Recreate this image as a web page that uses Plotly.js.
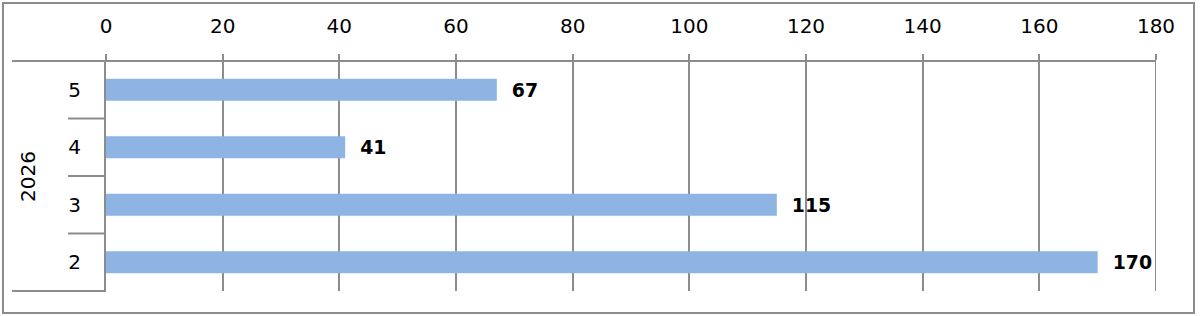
<!DOCTYPE html>
<html>
<head>
<meta charset="utf-8">
<script src="https://cdn.plot.ly/plotly-3.0.1.min.js"></script>
<style>html,body{margin:0;padding:0;background:#fff;}#chart{width:1200px;height:316px;}</style>
</head>
<body>
<div id="chart"></div>
<script>
var categories = ['5', '4', '3', '2'];
var values = [67, 41, 115, 170];
var groupLabel = '2026';
var xTicks = [0, 20, 40, 60, 80, 100, 120, 140, 160, 180];

var W = 1200, H = 316;
var mL = 106, mR = 44, mT = 61, mB = 25;
var pw = W - mL - mR, ph = H - mT - mB;
function px(x) { return (x - mL) / pw; }
function py(y) { return (H - mB - y) / ph; }

var gray = '#8c8c8c';
var font = 'DejaVu Sans, Verdana, sans-serif';

var shapes = [];
// outer border
shapes.push({type: 'rect', xref: 'paper', yref: 'paper', x0: px(3), x1: px(1194), y0: py(3), y1: py(313), line: {color: gray, width: 2}});
// top line
shapes.push({type: 'line', xref: 'paper', yref: 'paper', x0: px(12), x1: 1, y0: 1, y1: 1, line: {color: gray, width: 2}});
// bottom line (left part)
shapes.push({type: 'line', xref: 'paper', yref: 'paper', x0: px(12), x1: 0, y0: 0, y1: 0, line: {color: gray, width: 2}});
// last gridline at right edge
shapes.push({type: 'line', xref: 'x', yref: 'paper', x0: xTicks[xTicks.length - 1], x1: xTicks[xTicks.length - 1], y0: 0, y1: 1, line: {color: gray, width: 2}});
// category separators
for (var i = 0; i < categories.length - 1; i++) {
  shapes.push({type: 'line', xref: 'paper', yref: 'y', x0: px(68), x1: 0, y0: i + 0.5, y1: i + 0.5, line: {color: gray, width: 2}});
}

var trace = {
  type: 'bar',
  orientation: 'h',
  y: categories,
  x: values,
  marker: {color: '#8eb4e3'},
  width: 0.38,
  text: values.map(function (v) { return '\u00a0\u00a0<b>' + v + '</b>'; }),
  texttemplate: '%{text}',
  textposition: 'outside',
  cliponaxis: false,
  textfont: {family: font, size: 19, color: '#000'},
  hoverinfo: 'none'
};

var layout = {
  width: W, height: H,
  margin: {l: mL, r: mR, t: mT, b: mB, pad: 0},
  paper_bgcolor: '#fff', plot_bgcolor: '#fff',
  showlegend: false,
  font: {family: font, size: 20, color: '#000'},
  xaxis: {
    side: 'top', range: [0, 180], tickvals: xTicks, ticktext: xTicks.map(String),
    showgrid: true, gridcolor: gray, gridwidth: 2,
    zeroline: false, showline: false,
    ticks: 'outside', ticklen: 6, tickcolor: gray, tickwidth: 2,
    ticklabelstandoff: 13,
    tickfont: {family: font, size: 20, color: '#000'},
    fixedrange: true
  },
  yaxis: {
    type: 'category', autorange: 'reversed',
    showgrid: false, zeroline: false,
    showline: true, linecolor: gray, linewidth: 2,
    ticks: '', ticklabelstandoff: 19,
    tickfont: {family: font, size: 20, color: '#000'},
    fixedrange: true
  },
  shapes: shapes,
  annotations: [{
    xref: 'paper', yref: 'paper', x: px(27.5), y: py(176.5),
    text: groupLabel, textangle: -90, showarrow: false,
    xanchor: 'center', yanchor: 'middle',
    font: {family: font, size: 20, color: '#000'}
  }]
};

Plotly.newPlot('chart', [trace], layout, {displayModeBar: false, staticPlot: true});
</script>
</body>
</html>
